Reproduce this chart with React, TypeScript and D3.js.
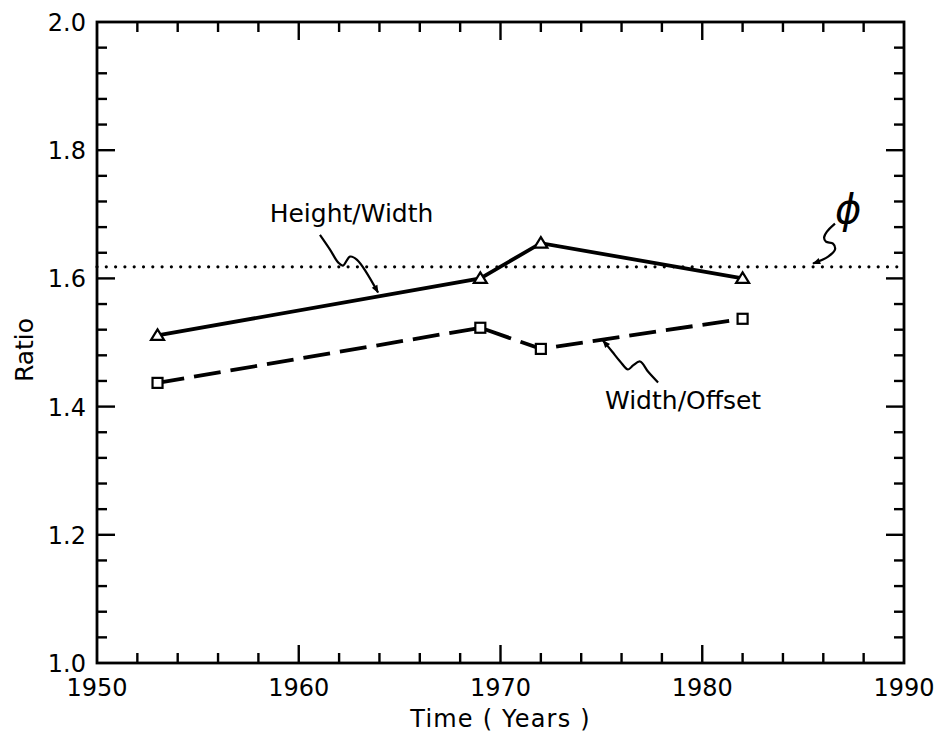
import React from "react";
import * as d3 from "d3";

// ---- data ----
const years = [1953, 1969, 1972, 1982];
const heightWidth = [1.511, 1.6, 1.655, 1.6];
const widthOffset = [1.437, 1.523, 1.49, 1.537];
const PHI = 1.618;
const xTickLabels = [1950, 1960, 1970, 1980, 1990];
const yTickLabels = ["1.0", "1.2", "1.4", "1.6", "1.8", "2.0"];

// annotation squiggles (data coordinates)
const hwArrow: [number, number][] = [
  [1961.05, 1.668], [1961.55, 1.645], [1961.95, 1.625], [1962.19, 1.62],
  [1962.54, 1.634], [1962.89, 1.629], [1963.93, 1.578],
];
const woArrow: [number, number][] = [
  [1977.81, 1.4377], [1977.31, 1.4548], [1976.92, 1.4704], [1976.57, 1.4642],
  [1976.32, 1.4579], [1975.93, 1.4704], [1975.53, 1.486], [1975.08, 1.5031],
];
const phiArrow: [number, number][] = [
  [1986.58, 1.6854], [1986.18, 1.6729], [1986.04, 1.6636], [1986.13, 1.6573],
  [1986.48, 1.6542], [1986.58, 1.6449], [1986.24, 1.634], [1985.49, 1.6231],
];

const W = 939;
const H = 735;
const FONT = "'DejaVu Sans', sans-serif";

export default function App() {
  const x = d3.scaleLinear().domain([1950, 1990]).range([97, 904]);
  const y = d3.scaleLinear().domain([1, 2]).range([663, 22]);
  const [x0, x1] = x.range();
  const [y0, y1] = y.range();

  const line = d3
    .line<number>()
    .x((_, i) => x(years[i]))
    .y((d) => y(d));
  const curve = d3
    .line<[number, number]>()
    .x((d) => x(d[0]))
    .y((d) => y(d[1]))
    .curve(d3.curveCatmullRom.alpha(0.5));

  const xMinor = d3.range(1952, 1990, 2);
  const yMinor = d3.range(1, 25).map((i) => ({ v: 1 + i * 0.04, major: i % 5 === 0 }));

  const tri = (cx: number, cy: number) => {
    const w = 6.5, h = 10;
    return `M${cx},${cy - h * 0.6}L${cx + w},${cy + h * 0.45}L${cx - w},${cy + h * 0.45}Z`;
  };

  return (
    <svg
      width={W}
      height={H}
      style={{ position: "absolute", left: 0, top: 0, background: "#fff" }}
      fontFamily={FONT}
    >
      <defs>
        <marker id="ah" viewBox="0 0 10 10" refX="9" refY="5" markerWidth="12" markerHeight="8"
          markerUnits="userSpaceOnUse" orient="auto">
          <path d="M0,1 L10,5 L0,9 Z" fill="#000" />
        </marker>
      </defs>
      <rect width={W} height={H} fill="#fff" />

      {/* frame */}
      <rect x={x0} y={y1} width={x1 - x0} height={y0 - y1} fill="none" stroke="#000" strokeWidth={2.8} />

      {/* x ticks top & bottom */}
      {xMinor.map((v) => {
        const len = v % 10 === 0 ? 18 : 10;
        return (
          <g key={"xt" + v} stroke="#000" strokeWidth={2.4}>
            <line x1={x(v)} x2={x(v)} y1={y0} y2={y0 - len} />
            <line x1={x(v)} x2={x(v)} y1={y1} y2={y1 + len} />
          </g>
        );
      })}
      {/* y ticks left & right */}
      {yMinor.map((t) => {
        const len = t.major ? 18 : 10;
        return (
          <g key={"yt" + t.v} stroke="#000" strokeWidth={2.4}>
            <line x1={x0} x2={x0 + len} y1={y(t.v)} y2={y(t.v)} />
            <line x1={x1} x2={x1 - len} y1={y(t.v)} y2={y(t.v)} />
          </g>
        );
      })}

      {/* tick labels */}
      {xTickLabels.map((v) => (
        <text key={"xl" + v} x={x(v)} y={y0 + 33} textAnchor="middle" fontSize={24}>
          {v}
        </text>
      ))}
      {yTickLabels.map((s) => (
        <text key={"yl" + s} x={x0 - 11} y={y(+s) + 9} textAnchor="end" fontSize={24}>
          {s}
        </text>
      ))}

      {/* axis titles */}
      <text x={(x0 + x1) / 2} y={727} textAnchor="middle" fontSize={24} letterSpacing={1.2}>
        Time ( Years )
      </text>
      <text transform={`translate(33,350) rotate(-90)`} textAnchor="middle" fontSize={25}>
        Ratio
      </text>

      {/* golden ratio dotted line */}
      <line x1={x0} x2={x1} y1={y(PHI)} y2={y(PHI)} stroke="#000" strokeWidth={3.2}
        strokeDasharray="0 9.3" strokeLinecap="round" />

      {/* series lines */}
      <path d={line(heightWidth) || ""} fill="none" stroke="#000" strokeWidth={3.8} />
      <path d={line(widthOffset) || ""} fill="none" stroke="#000" strokeWidth={3.8}
        strokeDasharray="27 10" />

      {/* markers */}
      {heightWidth.map((v, i) => (
        <path key={"tri" + i} d={tri(x(years[i]), y(v))} fill="#fff" stroke="#000" strokeWidth={2.2}
          strokeLinejoin="miter" />
      ))}
      {widthOffset.map((v, i) => (
        <rect key={"sq" + i} x={x(years[i]) - 5} y={y(v) - 5} width={10} height={10}
          fill="#fff" stroke="#000" strokeWidth={2.2} />
      ))}

      {/* annotations */}
      <path d={curve(hwArrow) || ""} fill="none" stroke="#000" strokeWidth={2.2} markerEnd="url(#ah)" />
      <path d={curve(woArrow) || ""} fill="none" stroke="#000" strokeWidth={2.2} markerEnd="url(#ah)" />
      <path d={curve(phiArrow) || ""} fill="none" stroke="#000" strokeWidth={2.2} markerEnd="url(#ah)" />

      <text x={x(1958.56)} y={y(1.688)} fontSize={25}>Height/Width</text>
      <text x={x(1975.18)} y={y(1.3956)} fontSize={25}>Width/Offset</text>
      <text x={x(1987.23)} y={y(1.686)} textAnchor="middle" fontSize={40} fontStyle="italic">ϕ</text>
    </svg>
  );
}
